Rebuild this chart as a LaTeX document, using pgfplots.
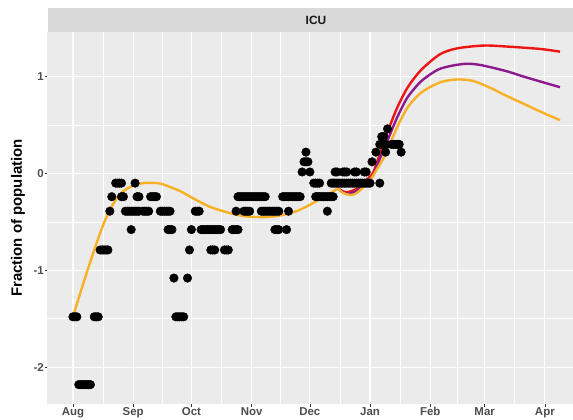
\documentclass[border=0pt]{standalone}
\usepackage{fontspec}
\setmainfont{Liberation Sans}
\usepackage{pgfplots}
\pgfplotsset{compat=1.18}
\definecolor{panelgray}{HTML}{EBEBEB}
\definecolor{stripgray}{HTML}{D9D9D9}
\definecolor{txtgray}{HTML}{4D4D4D}
\definecolor{tickgray}{HTML}{333333}
\definecolor{fitred}{HTML}{F01515}
\definecolor{fitpurple}{HTML}{8C1A8C}
\definecolor{fitorange}{HTML}{F8B025}
\begin{document}
\begin{tikzpicture}
\begin{axis}[
  at={(47.5bp,16bp)}, anchor=south west,
  scale only axis, width=525.5bp, height=372bp,
  xmin=-13.1, xmax=257.5, ymin=-2.38, ymax=1.46,
  axis background/.style={fill=panelgray},
  axis line style={draw=none},
  xtick={0,31,61,92,122,153,184,212,243},
  xticklabels={Aug,Sep,Oct,Nov,Dec,Jan,Feb,Mar,Apr},
  minor xtick={15.5,46,76.5,107,137.5,168.5,198,227.5},
  ytick={-2,-1,0,1},
  yticklabels={-2,-1,0,1},
  minor ytick={-1.5,-0.5,0.5},
  grid=both,
  major grid style={white, line width=1.2bp},
  minor grid style={white, line width=0.6bp},
  tick pos=left, tick align=outside,
  major tick length=2.8bp, minor tick length=0pt,
  every tick/.style={tickgray, line width=0.6bp},
  tick label style={font=\bfseries\fontsize{11.5}{12}\selectfont, text=txtgray},
  xticklabel style={inner sep=0.5bp},
  yticklabel style={inner sep=0.8bp},
  clip=false,
]
\addplot[only marks, mark=*, mark size=4.3bp, mark options={fill=black, draw=none}] coordinates {
(0,-1.48)(1,-1.48)(2,-1.48)(11,-1.48)(12,-1.48)(13,-1.48)
(53,-1.48)(54,-1.48)(55,-1.48)(56,-1.48)(57,-1.48)
(3,-2.18)(4,-2.18)(5,-2.18)(6,-2.18)(7,-2.18)(8,-2.18)(9,-2.18)
(52,-1.08)(59,-1.08)
(14,-0.79)(15,-0.79)(16,-0.79)(17,-0.79)(18,-0.79)(60,-0.79)
(71,-0.79)(72,-0.79)(73,-0.79)(78,-0.79)(79,-0.79)(80,-0.79)
(30,-0.58)(49,-0.58)(50,-0.58)(51,-0.58)(61,-0.58)
(66,-0.58)(67,-0.58)(68,-0.58)(69,-0.58)(70,-0.58)(71,-0.58)(72,-0.58)(73,-0.58)(74,-0.58)(75,-0.58)(76,-0.58)
(82,-0.58)(83,-0.58)(84,-0.58)(85,-0.58)(104,-0.58)(105,-0.58)(106,-0.58)(110,-0.58)
(19,-0.39)(27,-0.39)(28,-0.39)(29,-0.39)(30,-0.39)(31,-0.39)(32,-0.39)(33,-0.39)(34,-0.39)
(36,-0.39)(37,-0.39)(38,-0.39)(39,-0.39)
(45,-0.39)(46,-0.39)(47,-0.39)(48,-0.39)(49,-0.39)(50,-0.39)
(63,-0.39)(64,-0.39)(65,-0.39)(84,-0.39)(88,-0.39)(89,-0.39)(90,-0.39)(91,-0.39)
(97,-0.39)(98,-0.39)(99,-0.39)(100,-0.39)(101,-0.39)(102,-0.39)(103,-0.39)(104,-0.39)(105,-0.39)(106,-0.39)
(111,-0.39)(131,-0.39)
(20,-0.24)(25,-0.24)(26,-0.24)(33,-0.24)(34,-0.24)(40,-0.24)(41,-0.24)(42,-0.24)(43,-0.24)
(85,-0.24)(86,-0.24)(87,-0.24)(88,-0.24)(89,-0.24)(90,-0.24)(91,-0.24)(92,-0.24)(93,-0.24)(94,-0.24)
(95,-0.24)(96,-0.24)(97,-0.24)(98,-0.24)(99,-0.24)
(108,-0.24)(109,-0.24)(110,-0.24)(111,-0.24)(112,-0.24)(113,-0.24)(114,-0.24)(115,-0.24)(116,-0.24)(117,-0.24)
(125,-0.24)(126,-0.24)(127,-0.24)(128,-0.24)(129,-0.24)(130,-0.24)(131,-0.24)(132,-0.24)(133,-0.24)(134,-0.24)
(22,-0.10)(23,-0.10)(24,-0.10)(25,-0.10)(32,-0.10)
(124,-0.10)(125,-0.10)(126,-0.10)(127,-0.10)
(133,-0.10)(134,-0.10)(135,-0.10)(136,-0.10)(137,-0.10)(138,-0.10)(139,-0.10)(140,-0.10)(141,-0.10)(142,-0.10)
(143,-0.10)(144,-0.10)(145,-0.10)(146,-0.10)(147,-0.10)(148,-0.10)(149,-0.10)(150,-0.10)(151,-0.10)(152,-0.10)(153,-0.10)
(158,-0.10)
(118,0.015)(122,0.015)(135,0.015)(136,0.015)(139,0.015)(140,0.015)(141,0.015)(145,0.015)(146,0.015)(150,0.015)(151,0.015)
(119,0.12)(120,0.12)(121,0.12)(154,0.12)
(120,0.22)(156,0.22)(161,0.22)(169,0.22)
(158,0.30)(159,0.30)(160,0.30)(161,0.30)(164,0.30)(165,0.30)(166,0.30)(167,0.30)(168,0.30)
(159,0.38)(160,0.38)
(162,0.46)
};
% red fit
\addplot[fitred, line width=2.4bp, smooth] coordinates {
(136.5,-0.155)(139,-0.185)(141,-0.195)(145,-0.17)(148.6,-0.13)(151,-0.07)(154.6,0.01)
(158,0.20)(163.2,0.49)(167,0.68)(171.8,0.87)(176,0.99)(180.4,1.09)(189,1.23)(197.6,1.29)
(211.3,1.32)(223.3,1.31)(240.5,1.285)(250.8,1.257)
};
% purple fit
\addplot[fitpurple, line width=2.4bp, smooth] coordinates {
(136.5,-0.155)(139,-0.19)(141.5,-0.21)(145,-0.19)(148.6,-0.145)(151,-0.09)(154.6,-0.02)
(158,0.15)(163.2,0.40)(167,0.58)(171.8,0.77)(176,0.88)(180.4,0.97)(189,1.08)(201,1.13)
(209.6,1.12)(223.3,1.055)(232,1.00)(240.5,0.95)(250.8,0.89)
};
% orange fit
\addplot[fitorange, line width=2.4bp, smooth] coordinates {
(136.5,-0.155)(139,-0.20)(142,-0.22)(145,-0.215)(148.6,-0.16)(151,-0.11)(154,-0.04)
(157,0.06)(160.6,0.18)(163.2,0.30)(167,0.48)(171.8,0.665)(176,0.77)(180.4,0.85)(189,0.94)
(197.6,0.97)(206,0.955)(214.7,0.885)(223.3,0.80)(232,0.72)(240.5,0.64)(250.8,0.55)
};
% common part of the fits
\addplot[fitorange, line width=2.4bp, smooth] coordinates {
(0,-1.48)(4,-1.22)(8,-0.97)(12,-0.73)(16,-0.51)(20,-0.34)(24,-0.22)(28,-0.155)(32,-0.12)
(36,-0.10)(40,-0.097)(45,-0.105)(50,-0.14)(55,-0.18)(60,-0.235)(65,-0.29)(70,-0.34)
(75,-0.375)(80,-0.405)(85,-0.43)(90,-0.445)(95,-0.45)(100,-0.45)(105,-0.44)(110,-0.42)
(115,-0.39)(120,-0.345)(125,-0.29)(130,-0.23)(134,-0.185)(136.5,-0.155)
};
\end{axis}
\fill[stripgray] (47.5bp,388bp) rectangle (573bp,412bp);
\node[font=\bfseries\fontsize{12}{12}\selectfont, text={black!90}] at (316bp,400bp) {ICU};
\node[rotate=90, font=\bfseries\fontsize{15}{16}\selectfont, text=black] at (18bp,202bp) {Fraction of population};
\pgfresetboundingbox
\useasboundingbox (0,0) rectangle (573bp,420bp);
\end{tikzpicture}
\end{document}
